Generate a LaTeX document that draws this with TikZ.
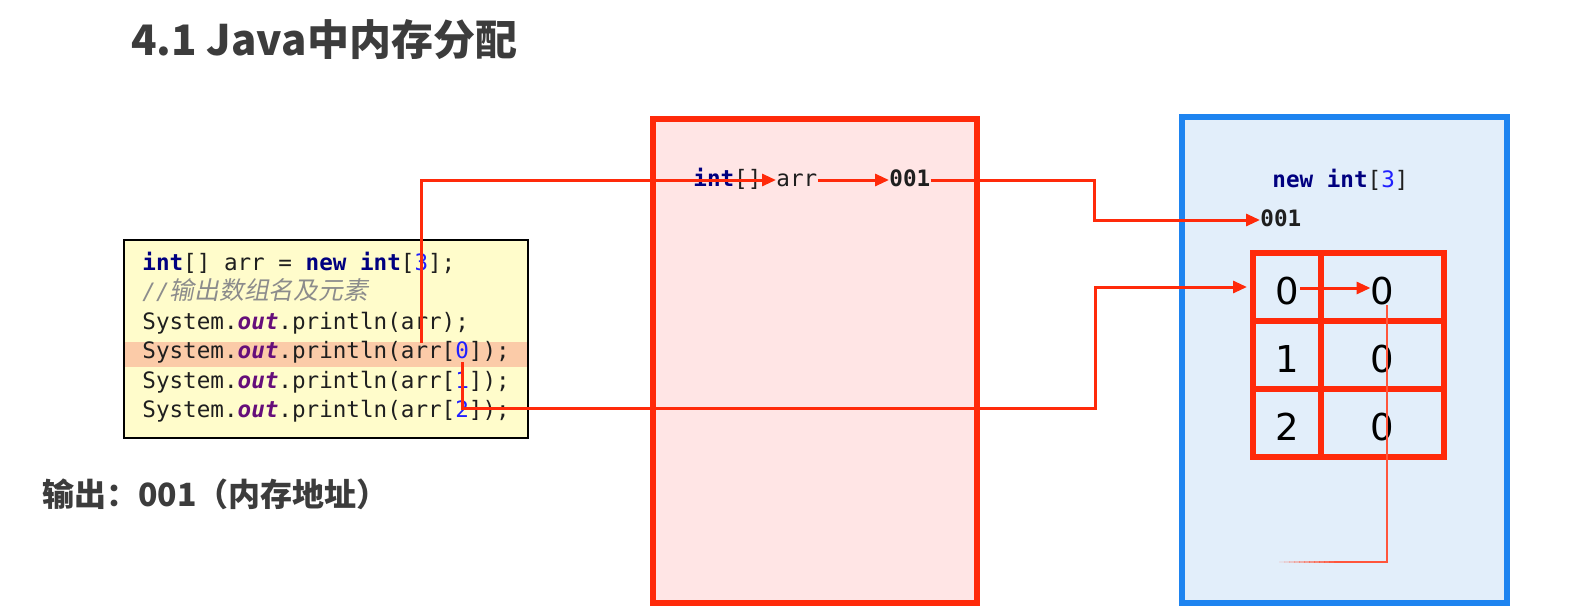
\documentclass[tikz,border=0pt]{standalone}
\usepackage{fontspec}
\usetikzlibrary{arrows.meta,calc}
\newfontfamily\codefont{DejaVu Sans Mono}
\newfontfamily\cjkfont{Noto Sans CJK SC}
\newfontfamily\cjkslant{Noto Sans CJK SC}[FakeSlant=0.2]
\newfontfamily\digitfont{DejaVu Sans}
\definecolor{linered}{HTML}{FF2A0A}
\definecolor{kwblue}{HTML}{000080}
\definecolor{fieldpurple}{HTML}{660E7A}
\definecolor{numblue}{HTML}{2020FF}
\definecolor{commentgray}{HTML}{8C8C8C}
\definecolor{codebg}{HTML}{FFFCCB}
\definecolor{hlbg}{HTML}{FBCBA8}
\definecolor{stackbg}{HTML}{FFE5E5}
\definecolor{heapbg}{HTML}{E2EEFA}
\definecolor{heapblue}{HTML}{1E84F0}
\definecolor{titlegray}{HTML}{3C3C3C}
\newcommand\kw[1]{{\bfseries\color{kwblue}#1}}
\newcommand\fld[1]{{\bfseries\itshape\color{fieldpurple}#1}}
\newcommand\cnum[1]{{\color{numblue}#1}}
\begin{document}
\begin{tikzpicture}[x=0.5pt,y=-0.5pt,
  arr/.style={draw=linered,line width=1.5pt,-{Triangle[length=7pt,width=6pt]}},
  code/.style={anchor=west,inner sep=0pt,text=black!88,font=\codefont\fontsize{11.3}{13}\selectfont,text height=8.5pt,text depth=2.5pt},
  cell/.style={draw=linered,line width=3pt,minimum height=34pt,inner sep=0pt,text height=17.5pt,text depth=0pt,font=\digitfont\fontsize{18.5}{20}\selectfont},
  heading/.style={anchor=west,inner sep=0pt,text=titlegray,font=\cjkfont\bfseries},
  trail/.style={draw=linered!80,line width=1pt}]
\useasboundingbox[fill=white] (0,0) rectangle (1580,611);
\node[heading,font=\cjkfont\bfseries\fontsize{21}{24}\selectfont] (title) at (131,40) {4.1 Java中内存分配};
% code
\node[draw=black,line width=1pt,fill=codebg,minimum width=202pt,minimum height=99pt,inner sep=0pt] (codebox) at (326,339) {};
\fill[hlbg] (125,342) rectangle (527,367);
\node[code] (l1) at (142,264) {\kw{int}[] arr = \kw{new} \kw{int}[\cnum{3}];};
\node[code,text=commentgray] (l2) at (142,293.5) {\itshape//{\cjkslant\fontsize{12.4}{13}\selectfont 输出数组名及元素}};
\node[code] (l3) at (142,323) {System.\fld{out}.println(arr);};
\foreach \i in {0,1,2} \node[code] (e\i) at (142,352.5+29.5*\i) {System.\fld{out}.println(arr[\cnum{\i}]);};
\node[heading,font=\cjkfont\bfseries\fontsize{16}{20}\selectfont] (output) at (42,494) {输出：001（内存地址）};
% stack and heap
\node[draw=linered,line width=3pt,fill=stackbg,minimum width=162pt,minimum height=242pt,inner sep=0pt] (stack) at (815,361) {};
\node[draw=heapblue,line width=3pt,fill=heapbg,minimum width=162.5pt,minimum height=243pt,inner sep=0pt] (heap) at (1344.5,360) {};
\node[code] (sint) at (693,180) {\kw{int}[]};
\node[code] (sarr) at (776,180) {arr};
\node[code] (saddr) at (889,180) {\textbf{001}};
\node[code] (hnew) at (1272,181) {\kw{new} \kw{int}[\cnum{3}]};
\node[code] (haddr) at (1260,220) {\textbf{001}};
\foreach \i in {0,1,2} {
  \node[cell,minimum width=34pt] (idx\i) at (1287,287+68*\i) {\i};
  \node[cell,minimum width=61.5pt] (val\i) at (1382.5,287+68*\i) {0};
}
% arrows
\coordinate (c1) at (421,343);
\coordinate (c2) at (462,362);
\coordinate (trailend) at (1274,562);
\draw[arr] (c1) |- (sarr.west);
\draw[arr] (sarr.east) -- (saddr.west);
\draw[arr] (saddr.east) -- ++(164,0) |- (haddr.west);
\draw[arr,shorten >=1.5pt] (c2) |- ($(c2)+(633,46)$) |- (idx0.west);
\draw[arr] ($(idx0.center)+(13,1)$) -- ($(val0.center)+(-12,1)$);
\draw[trail] ($(val0.center)+(4,18)$) |- ($(trailend)+(60,0)$);
\foreach \k in {0,...,11} \draw[trail,draw opacity=\k/12] ($(trailend)+(5*\k,0)$) -- ++(5.5,0);
\end{tikzpicture}
\end{document}
